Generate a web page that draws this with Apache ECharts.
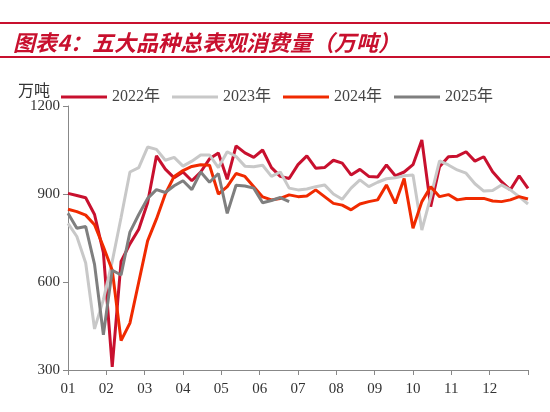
<!DOCTYPE html>
<html>
<head>
<meta charset="utf-8">
<script src="https://cdn.jsdelivr.net/npm/echarts@6/dist/echarts.min.js"></script>
<style>
  body { margin: 0; background: #fff; }
  #mychart { width: 550px; height: 412px; }
</style>
</head>
<body>
<div id="mychart"></div>
<script>
// weekly apparent consumption, week 0..52
const y2022 = [902, 895, 887, 830, 700, 311, 670, 730, 780, 870, 1030, 985, 955, 975, 945, 975, 1020, 1040, 950, 1064,
  1040, 1025, 1050, 990, 960, 953, 1000, 1030, 988, 990, 1015, 1005, 965, 984, 960, 958, 999, 962, 975, 1000,
  1084, 857, 993, 1027, 1029, 1044, 1012, 1027, 976, 942, 914, 962, 919]
const y2023 = [800, 755, 665, 440, 540, 670, 820, 975, 990, 1060, 1052, 1015, 1025, 995, 1012, 1033, 1033, 990, 1044, 1028,
  995, 993, 998, 960, 975, 920, 914, 917, 925, 931, 900, 882, 920, 948, 925, 940, 952, 955, 962, 965,
  777, 890, 1013, 999, 982, 971, 935, 910, 912, 931, 914, 891, 866]
const y2024 = [848, 840, 828, 795, 720, 640, 400, 460, 600, 740, 815, 900, 960, 980, 994, 1000, 998, 900, 925, 970,
  960, 925, 890, 880, 885, 897, 891, 893, 914, 891, 868, 862, 846, 866, 874, 880, 931, 868, 953, 783,
  874, 925, 891, 898, 880, 885, 885, 885, 876, 874, 880, 891, 883]
const y2025 = [834, 783, 789, 660, 420, 640, 624, 770, 830, 885, 915, 905, 928, 945, 915, 975, 940, 970, 834, 930,
  927, 920, 870, 878, 888, 874]
const months = ['01', '02', '03', '04', '05', '06', '07', '08', '09', '10', '11', '12']
const yTicks = [300, 600, 900, 1200]

function pts(arr) {
  return arr.map((v, i) => [i * 12 / 52, v])
}

let myChart = echarts.init(document.getElementById('mychart'))
const font = '"Liberation Serif", "Noto Sans CJK SC", serif'
const mk = (name, data, color) => ({
  name: name, type: 'line', data: pts(data), symbol: 'none',
  lineStyle: { color: color, width: 3 }, itemStyle: { color: color }
})

myChart.setOption({
  animation: false,
  title: {
    text: '图表4：五大品种总表观消费量（万吨）',
    left: 8, top: 27,
    textStyle: { color: '#c8102e', fontSize: 22, fontStyle: 'italic', fontWeight: 'bold',
      fontFamily: '"Noto Sans CJK SC", sans-serif' }
  },
  graphic: [
    { type: 'rect', shape: { x: 0, y: 22, width: 550, height: 2 }, style: { fill: '#c8102e' } },
    { type: 'rect', shape: { x: 0, y: 56, width: 550, height: 2 }, style: { fill: '#c8102e' } },
    { type: 'text', left: 18, top: 82, style: { text: '万吨', fill: '#333', font: '16px "Noto Sans CJK SC"' } }
  ],
  legend: {
    left: 56, top: 84, itemWidth: 46, itemHeight: 3, itemGap: 12,
    icon: 'rect',
    textStyle: { fontSize: 16, color: '#444', fontFamily: font },
    data: ['2022年', '2023年', '2024年', '2025年']
  },
  grid: { left: 68, right: 22, top: 106, bottom: 42 },
  xAxis: {
    type: 'value', min: 0, max: 12, interval: 1,
    axisLine: { lineStyle: { color: '#888' } },
    axisTick: { lineStyle: { color: '#888' } },
    splitLine: { show: false },
    axisLabel: {
      color: '#333', fontSize: 15, fontFamily: font, margin: 12,
      formatter: v => (v < 12 ? months[v] : '')
    }
  },
  yAxis: {
    type: 'value', min: yTicks[0], max: yTicks[3], interval: 300,
    axisLine: { show: true, lineStyle: { color: '#888' } },
    axisTick: { show: true, lineStyle: { color: '#888' } },
    splitLine: { show: false },
    axisLabel: { color: '#333', fontSize: 15, fontFamily: font, formatter: v => String(v) }
  },
  series: [
    mk('2022年', y2022, '#c8102e'),
    mk('2023年', y2023, '#c8c8c8'),
    mk('2024年', y2024, '#f02a00'),
    mk('2025年', y2025, '#7f7f7f')
  ]
})
</script>
</body>
</html>
